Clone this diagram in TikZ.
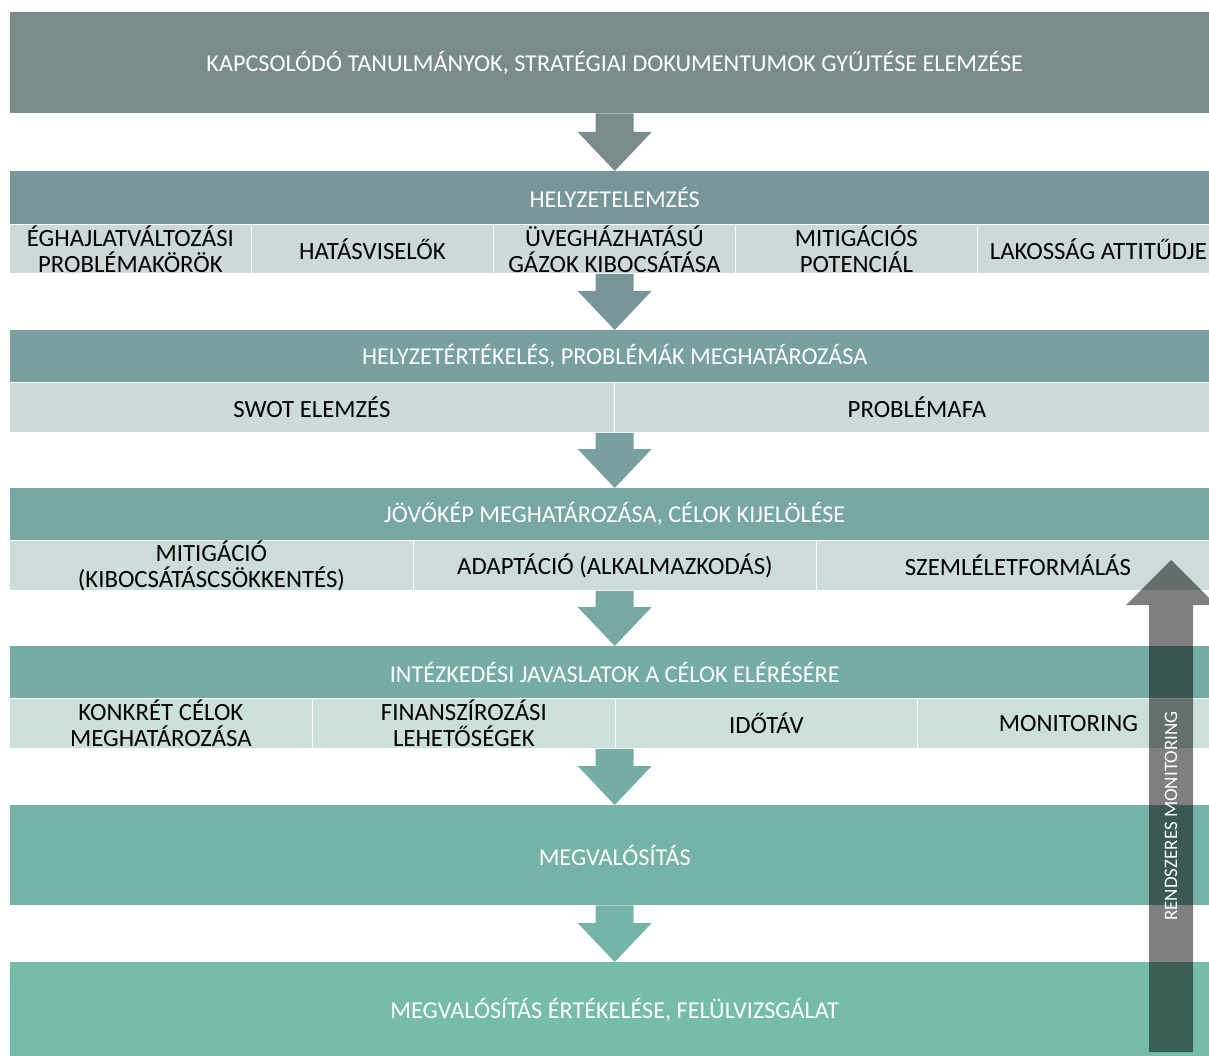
\documentclass[tikz,border=0pt]{standalone}
\usepackage{fontspec}
\setmainfont{Carlito}
\usetikzlibrary{calc}

\definecolor{bandA}{HTML}{7A8B8C}
\definecolor{bandB}{HTML}{789697}
\definecolor{bandC}{HTML}{77A09E}
\definecolor{bandD}{HTML}{76A7A1}
\definecolor{bandE}{HTML}{75ADA4}
\definecolor{bandF}{HTML}{75B3A6}
\definecolor{bandG}{HTML}{76BDA9}
\definecolor{cellB}{HTML}{CED8D8}
\definecolor{cellC}{HTML}{CDDADA}
\definecolor{cellD}{HTML}{CCDCDA}
\definecolor{cellE}{HTML}{CCE0DB}

\tikzset{
	band/.style={anchor=north west, inner sep=0pt, minimum width=1209pt, text=white, font=\fontsize{24.2}{26}\selectfont},
	cell/.style={anchor=north west, inner sep=0pt, draw=white, line width=0.8pt, text=black, align=center, font=\fontsize{24.8}{26}\selectfont},
}

% block arrow from the bottom of #1 down to the top of #2
\newcommand{\flowarrow}[3]{%
	\fill[#3] ($(#1.south -| #2.north)+(-19,0)$) -- ($(#1.south -| #2.north)+(19,0)$) -- ($(#2.north)+(19,-39)$) -- ($(#2.north)+(37,-39)$) -- (#2.north) -- ($(#2.north)+(-37,-39)$) -- ($(#2.north)+(-19,-39)$) -- cycle;}

\begin{document}
\begin{tikzpicture}[x=1pt, y=-1pt]
	\useasboundingbox (0,0) rectangle (1209,1056);
	\clip (0,0) rectangle (1209,1056);

	\node[band, fill=bandA, minimum height=101pt] (kapcs) at (10,12) {KAPCSOLÓDÓ TANULMÁNYOK, STRATÉGIAI DOKUMENTUMOK GYŰJTÉSE ELEMZÉSE};

	\node[band, fill=bandB, minimum height=53pt] (helyz) at (10,171) {HELYZETELEMZÉS};
	\node[cell, fill=cellB, minimum width=242pt, minimum height=49pt] (eghaj) at (9,224) {ÉGHAJLATVÁLTOZÁSI\\PROBLÉMAKÖRÖK};
	\node[cell, fill=cellB, minimum width=242pt, minimum height=49pt] (hatas) at (251,224) {HATÁSVISELŐK};
	\node[cell, fill=cellB, minimum width=242pt, minimum height=49pt] (uveg) at (493,224) {ÜVEGHÁZHATÁSÚ\\GÁZOK KIBOCSÁTÁSA};
	\node[cell, fill=cellB, minimum width=242pt, minimum height=49pt] (mitpot) at (735,224) {MITIGÁCIÓS\\POTENCIÁL};
	\node[cell, fill=cellB, minimum width=242pt, minimum height=49pt] (lakos) at (977,224) {LAKOSSÁG ATTITŰDJE};

	\node[band, fill=bandC, minimum height=52pt] (ertek) at (10,330) {HELYZETÉRTÉKELÉS, PROBLÉMÁK MEGHATÁROZÁSA};
	\node[cell, fill=cellC, minimum width=605pt, minimum height=50pt] (swot) at (9,382) {SWOT ELEMZÉS};
	\node[cell, fill=cellC, minimum width=605pt, minimum height=50pt] (pfa) at (614,382) {PROBLÉMAFA};

	\node[band, fill=bandD, minimum height=52pt] (jovo) at (10,488) {JÖVŐKÉP MEGHATÁROZÁSA, CÉLOK KIJELÖLÉSE};
	\node[cell, fill=cellD, minimum width=404pt, minimum height=50pt] (mitig) at (9,540) {MITIGÁCIÓ\\(KIBOCSÁTÁSCSÖKKENTÉS)};
	\node[cell, fill=cellD, minimum width=403pt, minimum height=50pt] (adapt) at (413,540) {ADAPTÁCIÓ (ALKALMAZKODÁS)};
	\node[cell, fill=cellD, minimum width=403pt, minimum height=50pt] (szeml) at (816,540) {SZEMLÉLETFORMÁLÁS};

	\node[band, fill=bandE, minimum height=52pt] (intez) at (10,646) {INTÉZKEDÉSI JAVASLATOK A CÉLOK ELÉRÉSÉRE};
	\node[cell, fill=cellE, minimum width=303pt, minimum height=50pt] (konkr) at (9,698) {KONKRÉT CÉLOK\\MEGHATÁROZÁSA};
	\node[cell, fill=cellE, minimum width=303pt, minimum height=50pt] (finan) at (312,698) {FINANSZÍROZÁSI\\LEHETŐSÉGEK};
	\node[cell, fill=cellE, minimum width=302pt, minimum height=50pt] (idot) at (615,698) {IDŐTÁV};
	\node[cell, fill=cellE, minimum width=302pt, minimum height=50pt] (monit) at (917,698) {MONITORING};

	\node[band, fill=bandF, minimum height=100pt] (megv) at (10,805) {MEGVALÓSÍTÁS};
	\node[band, fill=bandG, minimum height=96pt] (felul) at (10,962) {MEGVALÓSÍTÁS ÉRTÉKELÉSE, FELÜLVIZSGÁLAT};

	\flowarrow{kapcs}{helyz}{bandA}
	\flowarrow{uveg}{ertek}{bandB}
	\flowarrow{swot}{jovo}{bandC}
	\flowarrow{adapt}{intez}{bandD}
	\flowarrow{idot}{megv}{bandE}
	\flowarrow{megv}{felul}{bandF}

	% feedback arrow on the right
	\coordinate (monfoot) at (1171,1052);
	\coordinate (montip) at (1171,560);
	\fill[black, opacity=0.5] ($(monfoot)+(-22,0)$) -- ($(monfoot)+(22,0)$) -- ($(montip)+(22,45)$) -- ($(montip)+(45,45)$) -- (montip) -- ($(montip)+(-45,45)$) -- ($(montip)+(-22,45)$) -- cycle;
	\node[rotate=90, text=white, inner sep=0pt, font=\fontsize{19}{22}\selectfont] (monlabel) at (1171,816) {RENDSZERES MONITORING};
\end{tikzpicture}
\end{document}
